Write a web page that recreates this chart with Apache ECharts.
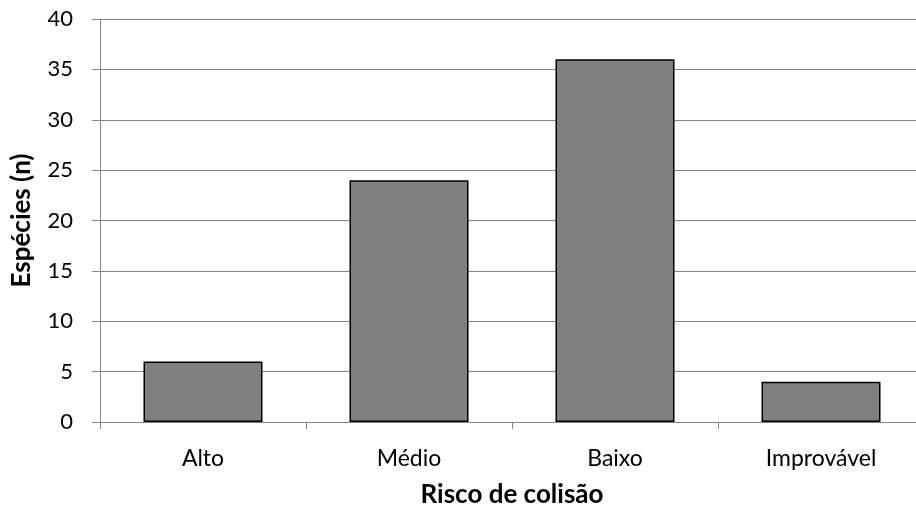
<!DOCTYPE html>
<html>
<head>
<meta charset="utf-8">
<script src="https://cdn.jsdelivr.net/npm/echarts@6/dist/echarts.min.js"></script>
<style>
  html, body { margin: 0; padding: 0; background: #ffffff; overflow: hidden; }
  #chart { width: 930px; height: 513px; }
</style>
</head>
<body>
<div id="chart"></div>
<script>
// Collision risk classes and number of species in each
const categories = ['Alto', 'Médio', 'Baixo', 'Improvável'];
const speciesCount = [6, 24, 36, 4];
const yTicks = { min: 0, max: 40, interval: 5 };

const chart = echarts.init(document.getElementById('chart'), null, { renderer: 'canvas' });
const font = 'Lato, "Open Sans", sans-serif';

chart.setOption({
  animation: false,
  backgroundColor: '#ffffff',
  grid: { left: 100, top: 19, width: 824, height: 405, containLabel: false },
  xAxis: {
    type: 'category',
    data: categories,
    name: 'Risco de colisão',
    nameLocation: 'middle',
    nameGap: 60,
    nameTextStyle: { fontFamily: font, fontSize: 26, fontWeight: 'bold', color: '#000' },
    axisLine: { lineStyle: { color: '#868686', width: 1 } },
    axisTick: { show: true, alignWithLabel: false, length: 7, lineStyle: { color: '#868686' } },
    axisLabel: { fontFamily: font, fontSize: 23, color: '#000', margin: 25 }
  },
  yAxis: {
    type: 'value',
    min: yTicks.min,
    max: yTicks.max,
    interval: yTicks.interval,
    name: 'Espécies (n)',
    nameLocation: 'middle',
    nameGap: 65,
    nameRotate: 90,
    nameTextStyle: { fontFamily: font, fontSize: 26, fontWeight: 'bold', color: '#000' },
    axisLine: { show: true, lineStyle: { color: '#868686', width: 1 } },
    axisTick: { show: true, length: 8, lineStyle: { color: '#868686' } },
    axisLabel: { fontFamily: font, fontSize: 22, color: '#000', margin: 27 },
    splitLine: { show: true, lineStyle: { color: '#868686', width: 1 } }
  },
  series: [{
    type: 'bar',
    data: speciesCount,
    barWidth: 119,
    itemStyle: { color: '#808080', borderColor: '#000000', borderWidth: 1.5 }
  }]
});
</script>
</body>
</html>
